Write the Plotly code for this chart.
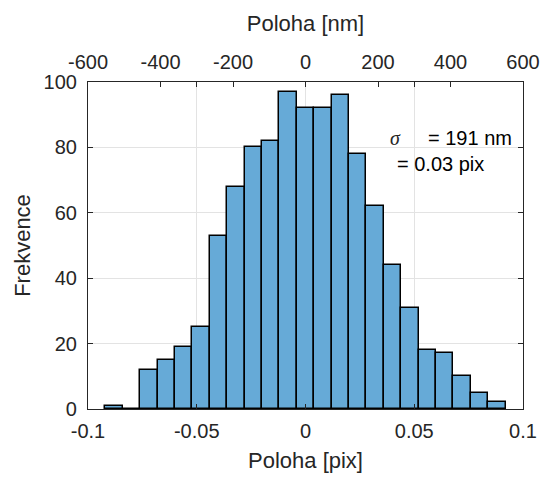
import plotly.graph_objects as go

# Data
bin_centers = [-0.088, -0.080, -0.072, -0.064, -0.056, -0.048, -0.040, -0.032,
               -0.024, -0.016, -0.008, 0.000, 0.008, 0.016, 0.024, 0.032,
               0.040, 0.048, 0.056, 0.064, 0.072, 0.080, 0.088]
counts = [1, 0, 12, 15, 19, 25, 53, 68, 80, 82, 97, 92, 92, 96, 78, 62,
          44, 31, 18, 17, 10, 5, 2]
bin_width = 0.008

x_ticks_pix = [-0.1, -0.05, 0, 0.05, 0.1]
x_ticklabels_pix = ["-0.1", "-0.05", "0", "0.05", "0.1"]
x_ticks_nm = [-600, -400, -200, 0, 200, 400, 600]
x_ticklabels_nm = ["-600", "-400", "-200", "0", "200", "400", "600"]
y_ticks = [0, 20, 40, 60, 80, 100]
y_ticklabels = ["0", "20", "40", "60", "80", "100"]

FONT = "Liberation Sans, Arial, sans-serif"
TXT = "#262626"

fig = go.Figure()
fig.add_trace(go.Bar(
    x=bin_centers, y=counts, width=bin_width,
    marker=dict(color="rgb(102,170,215)", line=dict(color="black", width=1.5)),
    showlegend=False, hoverinfo="skip"))
# invisible trace to activate top axis
fig.add_trace(go.Scatter(x=[-600, 600], y=[0, 0], xaxis="x2", mode="markers",
                         marker=dict(opacity=0), showlegend=False, hoverinfo="skip"))

fig.update_layout(
    width=540, height=477,
    margin=dict(l=88, r=17, t=82, b=68),
    paper_bgcolor="white", plot_bgcolor="white",
    font=dict(family=FONT, size=20, color=TXT),
    bargap=0,
    xaxis=dict(range=[-0.1, 0.1], tickvals=x_ticks_pix, ticktext=x_ticklabels_pix,
               ticks="inside", ticklen=5, tickcolor=TXT, tickwidth=1,
               showline=True, linecolor=TXT, linewidth=1.2, mirror="ticks",
               showgrid=True, gridcolor="#e3e3e3", gridwidth=1, zeroline=False,
               automargin=False, ticklabelstandoff=4,
               title=dict(text="Poloha [pix]", font=dict(size=22), standoff=11),
               tickfont=dict(size=20)),
    xaxis2=dict(range=[-600, 600], tickvals=x_ticks_nm, ticktext=x_ticklabels_nm,
                overlaying="x", side="top",
                ticks="inside", ticklen=5, tickcolor=TXT, tickwidth=1,
                showline=True, linecolor=TXT, linewidth=1.2,
                showgrid=False, zeroline=False, automargin=False, ticklabelstandoff=4,
                title=dict(text="Poloha [nm]", font=dict(size=22), standoff=13),
                tickfont=dict(size=20)),
    yaxis=dict(range=[0, 100], tickvals=y_ticks, ticktext=y_ticklabels,
               ticks="inside", ticklen=5, tickcolor=TXT, tickwidth=1,
               showline=True, linecolor=TXT, linewidth=1.2, mirror="ticks",
               showgrid=True, gridcolor="#e3e3e3", gridwidth=1, zeroline=False,
               automargin=False, ticklabelstandoff=6,
               title=dict(text="Frekvence", font=dict(size=22), standoff=6),
               tickfont=dict(size=20)),
)

fig.add_annotation(x=0.708, y=0.829, xref="paper", yref="paper",
                   text="<i>σ</i>", showarrow=False, xanchor="center", yanchor="middle",
                   font=dict(family="Liberation Serif, Times New Roman, serif", size=20, color=TXT))
fig.add_annotation(x=0.776, y=0.829, xref="paper", yref="paper",
                   text="= 191 nm", showarrow=False, xanchor="left", yanchor="middle",
                   font=dict(size=20, color="black"))
fig.add_annotation(x=0.705, y=0.749, xref="paper", yref="paper",
                   text="= 0.03 pix", showarrow=False, xanchor="left", yanchor="middle",
                   font=dict(size=20, color="black"))

# remove the browser's default 8px body margin so the figure fills the window exactly
fig.write_html("out.html", config={"displayModeBar": False},
               post_script="document.body.style.margin='0';document.body.style.overflow='hidden';")
